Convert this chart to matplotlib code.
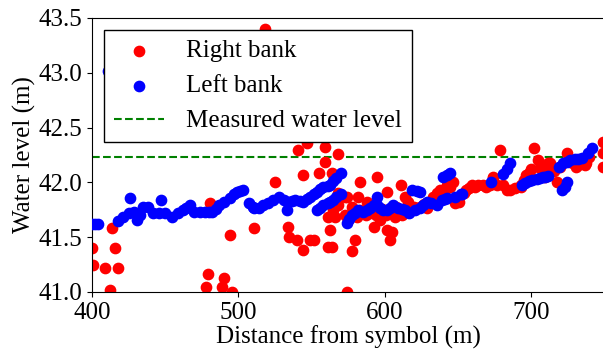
import matplotlib
matplotlib.use("Agg")
import matplotlib.pyplot as plt

plt.rcParams['font.family'] = ['Liberation Serif', 'DejaVu Serif']
plt.rcParams['font.size'] = 18

# right bank points (distance m, water level m)
right_x = [400, 401, 409, 412, 414, 416, 418, 478, 479, 481, 489, 490, 494, 496,
           511, 518, 525, 534, 535, 540, 541, 544, 544, 547, 549, 552, 555, 559,
           559, 561, 561, 563, 564, 564, 565, 566, 568, 568, 568, 573, 573, 574,
           574, 575, 578, 578, 580, 581, 582, 583, 583, 585, 587, 588, 590, 592,
           593, 594, 595, 597, 598, 599, 601, 602, 602, 604, 604, 605, 607, 608,
           610, 611, 612, 614, 616, 620, 624, 627, 629, 633, 636, 638, 641, 643,
           645, 647, 648, 650, 651, 654, 656, 658, 660, 662, 664, 667, 669, 672,
           674, 674, 677, 679, 681, 684, 686, 689, 693, 693, 695, 697, 699, 700,
           702, 705, 706, 708, 710, 710, 712, 713, 716, 718, 720, 725, 727, 729,
           731, 732, 737, 738, 740, 749, 749, 749]
right_y = [41.40, 41.25, 41.22, 41.02, 41.58, 41.40, 41.22, 41.05, 41.16, 41.81,
           41.05, 41.13, 41.52, 41.00, 41.58, 43.40, 42.00, 41.59, 41.50, 41.47,
           42.30, 41.38, 42.07, 42.36, 41.47, 41.47, 42.09, 42.32, 42.19, 41.41,
           41.68, 41.57, 42.09, 41.41, 41.75, 41.68, 42.26, 41.90, 41.79, 41.87,
           41.70, 41.87, 41.00, 41.66, 41.37, 41.78, 41.47, 41.68, 41.87, 42.00,
           41.75, 41.73, 41.70, 41.82, 41.72, 41.79, 41.59, 41.70, 42.05, 41.66,
           41.76, 41.72, 41.70, 41.91, 41.57, 41.47, 41.72, 41.55, 41.68, 41.78,
           41.74, 41.98, 41.70, 41.87, 41.82, 41.78, 41.78, 41.80, 41.77, 41.87,
           41.90, 41.93, 41.93, 41.98, 41.96, 42.00, 41.81, 41.84, 41.82, 41.90,
           41.93, 41.95, 41.98, 41.96, 41.98, 41.98, 41.96, 41.98, 42.04, 42.05,
           41.98, 42.30, 41.98, 41.93, 41.93, 41.95, 41.96, 41.98, 42.02, 42.07,
           42.09, 42.12, 42.31, 42.20, 42.13, 42.10, 42.05, 42.14, 42.18, 42.18,
           42.10, 42.00, 42.14, 42.27, 42.19, 42.18, 42.14, 42.16, 42.16, 42.18,
           42.23, 42.14, 42.27, 42.37]

# left bank points
left_x = [400, 402, 404, 411, 418, 421, 425, 426, 429, 431, 433, 435, 438, 442,
          446, 447, 450, 455, 459, 462, 464, 467, 470, 474, 477, 480, 482, 485,
          487, 490, 494, 497, 499, 501, 503, 507, 510, 511, 514, 517, 520, 524,
          528, 531, 533, 534, 537, 539, 542, 544, 547, 549, 552, 554, 556, 558,
          561, 563, 565, 567, 570, 554, 556, 558, 561, 563, 565, 567, 570, 574,
          576, 578, 580, 582, 585, 588, 590, 593, 595, 595, 597, 599, 602, 604,
          606, 609, 612, 614, 617, 619, 621, 622, 624, 624, 626, 629, 632, 636,
          639, 640, 641, 643, 643, 645, 648, 652, 653, 673, 681, 684, 686, 694,
          696, 699, 701, 704, 706, 708, 710, 712, 719, 722, 725, 727, 730, 732,
          735, 721, 723, 725, 739, 742]
left_y = [41.62, 41.62, 41.62, 43.02, 41.65, 41.68, 41.72, 41.86, 41.73, 41.66,
          41.70, 41.78, 41.78, 41.72, 41.72, 41.84, 41.72, 41.68, 41.72, 41.75,
          41.77, 41.79, 41.73, 41.73, 41.73, 41.73, 41.73, 41.76, 41.79, 41.82,
          41.86, 41.89, 41.91, 41.92, 41.93, 41.81, 41.78, 41.77, 41.77, 41.79,
          41.81, 41.84, 41.87, 41.84, 41.75, 41.82, 41.83, 41.84, 41.83, 41.82,
          41.85, 41.87, 41.89, 41.91, 41.94, 41.96, 41.97, 41.98, 42.01, 42.04,
          42.09, 41.75, 41.77, 41.79, 41.81, 41.82, 41.84, 41.87, 41.89, 41.63,
          41.67, 41.70, 41.72, 41.75, 41.73, 41.75, 41.77, 41.79, 41.87, 41.79,
          41.77, 41.75, 41.75, 41.77, 41.79, 41.77, 41.76, 41.75, 41.72, 41.93,
          41.75, 41.92, 41.91, 41.77, 41.79, 41.82, 41.81, 41.79, 41.84, 42.05,
          41.85, 41.86, 42.07, 42.09, 41.87, 41.89, 41.89, 42.00, 42.08, 42.12,
          42.18, 41.98, 41.99, 42.01, 42.02, 42.03, 42.04, 42.05, 42.05, 42.06,
          42.14, 42.18, 42.19, 42.20, 42.21, 42.21, 42.22, 41.93, 41.96, 42.00,
          42.27, 42.31]

measured_level = 42.23

fig = plt.figure(figsize=(6.03, 3.53), dpi=100)
ax = fig.add_axes([92/603, 61/353, 512/603, 274/353])

ax.scatter(right_x, right_y, s=55, color='red', label='Right bank', zorder=2)
ax.scatter(left_x, left_y, s=55, color='blue', label='Left bank', zorder=3)
ax.axhline(measured_level, color='green', linestyle='--', linewidth=1.5,
           label='Measured water level', zorder=1)

ax.set_xlim(400, 750)
ax.set_ylim(41.0, 43.5)
ax.set_xticks([400, 500, 600, 700])
ax.set_yticks([41.0, 41.5, 42.0, 42.5, 43.0, 43.5])
ax.set_xlabel('Distance from symbol (m)', labelpad=1)
ax.set_ylabel('Water level (m)', labelpad=2)

leg = ax.legend(loc='upper left', fancybox=False, framealpha=1,
                edgecolor='black', borderaxespad=0.47, handletextpad=0.9,
                labelspacing=0.5)
leg.get_frame().set_linewidth(1.0)
leg.set_zorder(5)

fig.savefig('out.png', dpi=100)
